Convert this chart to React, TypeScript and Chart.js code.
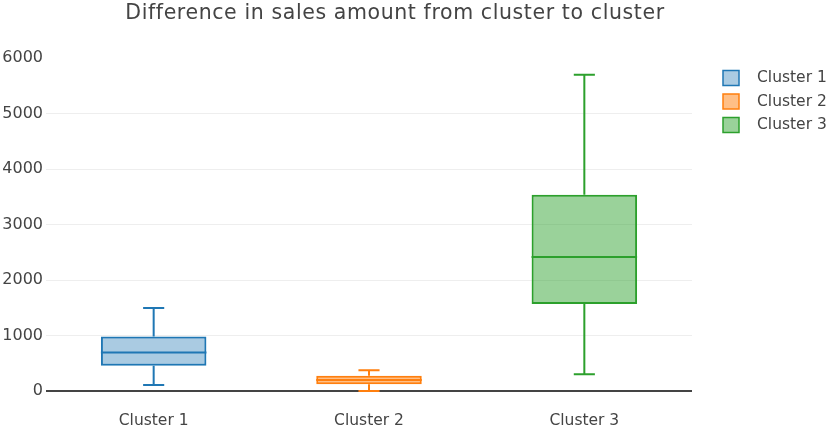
import React, { useEffect, useRef } from 'react';
import { Chart, registerables } from 'chart.js';

Chart.register(...registerables);

const categories = ['Cluster 1', 'Cluster 2', 'Cluster 3'];
const whiskerLow = [110, 0, 300];
const quartile1 = [455, 120, 1570];
const medians = [695, 200, 2415];
const quartile3 = [980, 275, 3535];
const whiskerHigh = [1495, 375, 5700];
const yTickValues = [0, 1000, 2000, 3000, 4000, 5000, 6000];
const titleText = 'Difference in sales amount from cluster to cluster';

const lineColors = ['#1f77b4', '#ff7f0e', '#2ca02c'];
const fillColors = ['rgba(31,119,180,0.38)', 'rgba(255,127,14,0.5)', 'rgba(44,160,44,0.48)'];
const FONT = '"DejaVu Sans", Verdana, sans-serif';
const TEXT = '#444444';

const boxPlugin = {
  id: 'boxWhiskers',
  afterDatasetsDraw(chart: any) {
    const ctx = chart.ctx;
    const ys = chart.scales.y;
    chart.data.datasets.forEach((ds: any, i: number) => {
      const meta = chart.getDatasetMeta(i);
      const el = meta.data[i];
      if (!el) return;
      const cx = el.x;
      const w = el.width;
      const cap = w * 0.2;
      const pMed = ys.getPixelForValue(medians[i]);
      const pQ1 = ys.getPixelForValue(quartile1[i]);
      const pQ3 = ys.getPixelForValue(quartile3[i]);
      const pLo = ys.getPixelForValue(whiskerLow[i]);
      const pHi = ys.getPixelForValue(whiskerHigh[i]);
      ctx.save();
      ctx.strokeStyle = lineColors[i];
      ctx.lineWidth = 2;
      ctx.beginPath();
      ctx.moveTo(cx - w / 2, pMed);
      ctx.lineTo(cx + w / 2, pMed);
      ctx.moveTo(cx, pQ3);
      ctx.lineTo(cx, pHi);
      ctx.moveTo(cx - cap / 2, pHi);
      ctx.lineTo(cx + cap / 2, pHi);
      ctx.moveTo(cx, pQ1);
      ctx.lineTo(cx, pLo);
      ctx.moveTo(cx - cap / 2, pLo);
      ctx.lineTo(cx + cap / 2, pLo);
      ctx.stroke();
      ctx.restore();
    });
  },
  afterDraw(chart: any) {
    const ctx = chart.ctx;
    const area = chart.chartArea;
    // title
    ctx.save();
    ctx.font = `20.5px ${FONT}`;
    (ctx as any).letterSpacing = '0.6px';
    ctx.textBaseline = 'middle';
    ctx.textAlign = 'center';
    ctx.fillStyle = TEXT;
    ctx.fillText(titleText, 395, 13.5);
    ctx.restore();
    // legend
    const lx = area.right + 31;
    const ly0 = area.top + 20;
    const step = 23.5;
    ctx.save();
    ctx.font = `15.5px ${FONT}`;
    ctx.textBaseline = 'middle';
    ctx.textAlign = 'left';
    chart.data.datasets.forEach((ds: any, i: number) => {
      const y = ly0 + i * step;
      ctx.fillStyle = fillColors[i];
      ctx.fillRect(lx, y - 7.5, 16, 15);
      ctx.strokeStyle = lineColors[i];
      ctx.lineWidth = 1.5;
      ctx.strokeRect(lx, y - 7.5, 16, 15);
      ctx.fillStyle = TEXT;
      ctx.fillText(ds.label, lx + 34, y);
    });
    ctx.restore();
  },
};

export default function App() {
  const canvasRef = useRef<HTMLCanvasElement | null>(null);

  useEffect(() => {
    const canvas = canvasRef.current;
    if (!canvas) return;
    const datasets = categories.map((name, i) => ({
      label: name,
      data: categories.map((_, j) => (j === i ? [quartile1[i], quartile3[i]] : null)),
      backgroundColor: fillColors[i],
      borderColor: lineColors[i],
      borderWidth: 2,
      borderSkipped: false,
      grouped: false,
      barPercentage: 0.49,
      categoryPercentage: 1,
    }));

    const chart = new Chart(canvas, {
      type: 'bar',
      data: { labels: categories, datasets: datasets as any },
      plugins: [boxPlugin],
      options: {
        responsive: false,
        animation: false,
        devicePixelRatio: 1,
        layout: { padding: { left: 0, right: 137, top: 58, bottom: 0 } },
        font: { family: FONT },
        plugins: {
          legend: { display: false },
          tooltip: { enabled: false },
          title: { display: false },
        },
        scales: {
          x: {
            type: 'category',
            afterFit(scale: any) {
              scale.height = 22;
            },
            grid: { display: false, drawTicks: false },
            border: { display: false },
            ticks: {
              color: TEXT,
              padding: 7,
              font: { family: FONT, size: 15.5, lineHeight: 1 },
            },
          },
          y: {
            type: 'linear',
            min: -270,
            max: 6000,
            afterFit(scale: any) {
              scale.width = 46;
            },
            afterBuildTicks(scale: any) {
              scale.ticks = yTickValues.map((v) => ({ value: v }));
            },
            grid: {
              drawTicks: false,
              color: (c: any) =>
                c.tick && c.tick.value === 0
                  ? '#444444'
                  : c.tick && c.tick.value === 6000
                  ? 'rgba(0,0,0,0)'
                  : '#eeeeee',
              lineWidth: (c: any) => (c.tick && c.tick.value === 0 ? 2 : 1),
            },
            border: { display: false },
            ticks: {
              color: TEXT,
              padding: 3,
              font: { family: FONT, size: 16 },
              callback: (v: any) => String(v),
            },
          },
        },
      } as any,
    });
    return () => chart.destroy();
  }, []);

  return (
    <div style={{ position: 'fixed', left: 0, top: 0, width: 829, height: 428, background: '#ffffff' }}>
      <canvas ref={canvasRef} width={829} height={428} style={{ display: 'block' }} />
    </div>
  );
}
